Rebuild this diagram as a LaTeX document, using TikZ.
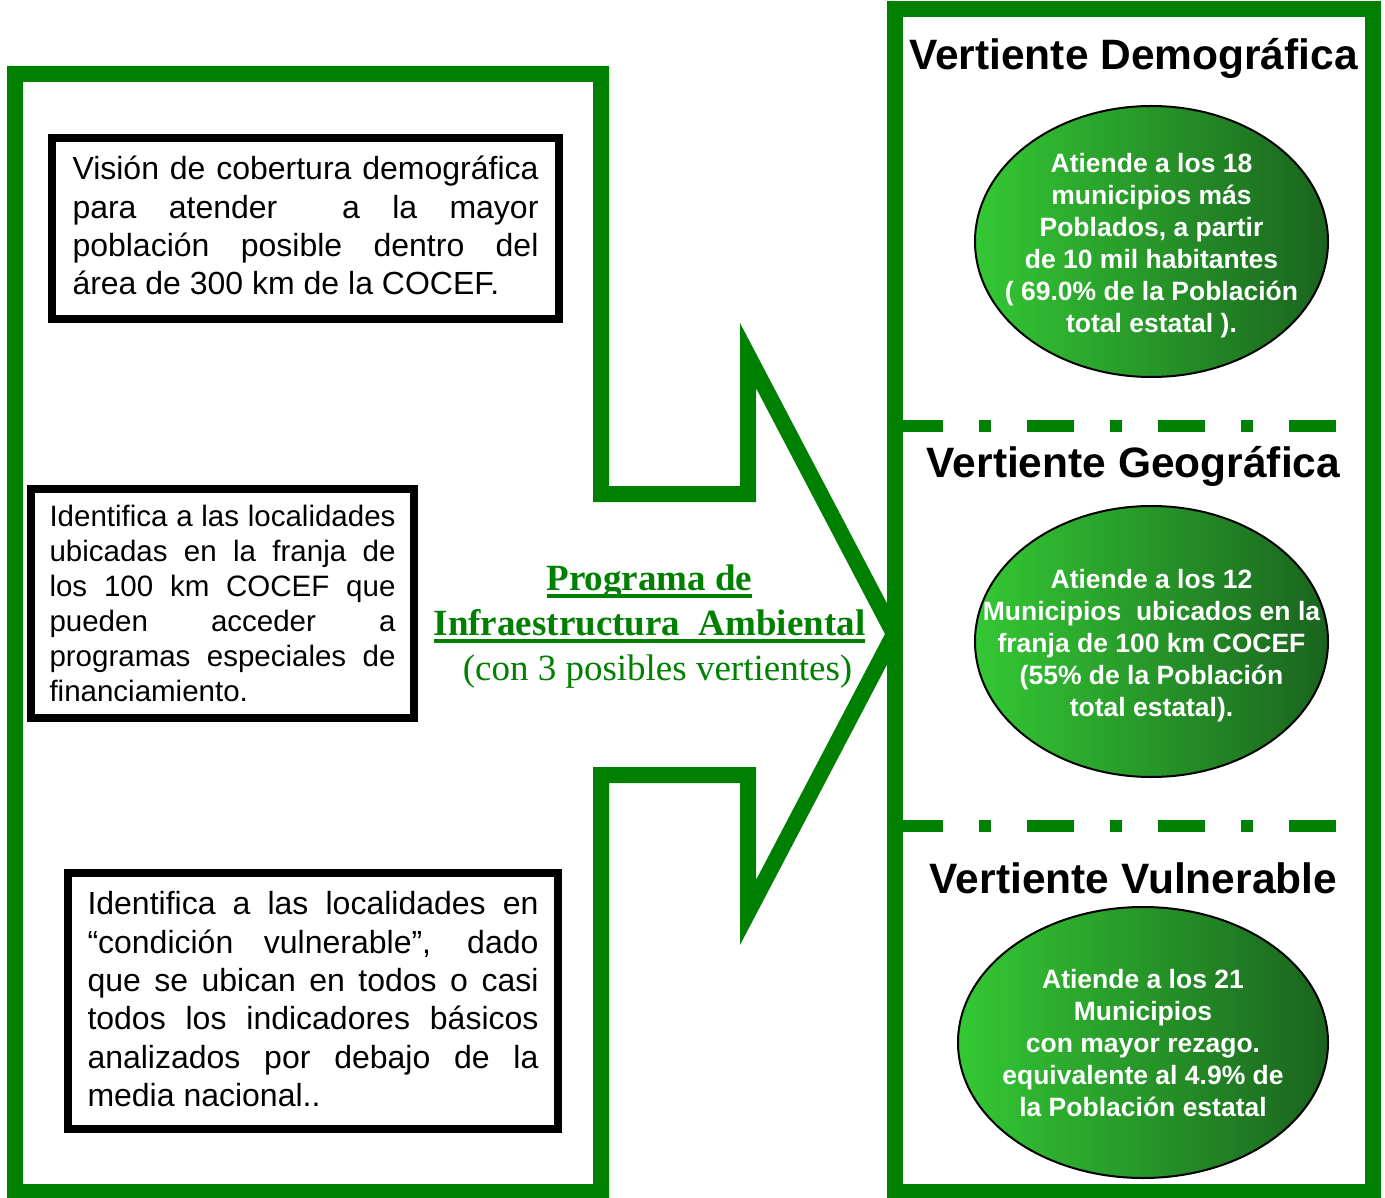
\documentclass[tikz,border=0pt]{standalone}
\usepackage{fontspec}
\setmainfont{Liberation Sans}
\newfontfamily\romana{Liberation Serif}
\usetikzlibrary{shapes.geometric}
\usetikzlibrary{positioning}
\definecolor{verdemarco}{RGB}{0,128,0}
\definecolor{verdeclaro}{RGB}{52,200,52}
\definecolor{verdeoscuro}{RGB}{26,100,30}
\newcommand{\titulofont}{\fontsize{42.5}{50}\selectfont\bfseries}
\newcommand{\cajafont}{\fontsize{32}{38.3}\selectfont\tolerance=10000\hyphenpenalty=10000}
\newcommand{\franjafont}{\fontsize{29.5}{35}\selectfont\tolerance=10000\hyphenpenalty=10000}
\newcommand{\burbujafont}{\fontsize{26.5}{32}\selectfont\bfseries}
\newcommand{\programafont}{\romana\fontsize{37}{45}\selectfont}
\newcommand{\subraya}[1]{\setbox0\hbox{#1}\rlap{\rule[-7pt]{\wd0}{3.5pt}}\box0}
\newcommand{\bajo}[1]{\rule[-#1]{0pt}{#1}}

\begin{document}
\begin{tikzpicture}[x=1pt,y=-1pt,line join=miter,
		marco/.style={draw=verdemarco,line width=16pt},
		separa/.style={draw=verdemarco,line width=12pt,dash pattern=on 47pt off 36pt on 12pt off 36pt},
		caja/.style={rectangle,draw=black,line width=7.5pt,align=justify,inner sep=0pt},
		burbuja/.style={ellipse,draw=black,line width=2pt,left color=verdeclaro,right color=verdeoscuro,inner sep=0pt,minimum height=271pt},
		textob/.style={align=center,text=white,font=\burbujafont},
		titulo/.style={anchor=base,font=\titulofont}]
		\useasboundingbox (0,0) rectangle (1385,1198);
		
		% flecha con las tres cajas
		\draw[marco] (15,74) -- (601,74) -- (601,494) -- (748,494) -- (748,355.5) -- (894,634)
			-- (748,912.5) -- (748,775) -- (601,775) -- (601,1192) -- (15,1192) -- cycle;
		
		% columna de vertientes
		\draw[separa] (896,426) -- (1337,426);
		\draw[separa] (896,826) -- (1337,826);
		\draw[marco] (895,9.5) rectangle (1373,1192);
		
		\node[caja,text width=466pt,minimum width=507pt,minimum height=181pt,font=\cajafont] (cobertura) at (305.5,228.5)
			{Visión de cobertura demográfica\linebreak para atender \ a la mayor\linebreak población posible dentro del\linebreak área de 300 km de la COCEF.\bajo{6pt}};
		\node[caja,text width=346pt,minimum width=383pt,minimum height=229pt,font=\franjafont] (franja) at (222.5,603.5)
			{Identifica a las localidades\linebreak ubicadas en la franja de\linebreak los 100 km COCEF que\linebreak pueden acceder a\linebreak programas especiales de\linebreak financiamiento.};
		\node[caja,text width=451pt,minimum width=490pt,minimum height=256pt,font=\cajafont] (vulnerable) at (313,1001)
			{Identifica a las localidades en\linebreak “condición vulnerable”, dado\linebreak que se ubican en todos o casi\linebreak todos los indicadores básicos\linebreak analizados por debajo de la\linebreak media nacional..\bajo{4pt}};
		
		\node[align=center,text=verdemarco,font=\programafont] (programa) at (649.5,627)
			{\subraya{\bfseries Programa de}\\ \subraya{\bfseries Infraestructura \ Ambiental}\\ \hspace*{16pt}(con 3 posibles vertientes)};
		
		\node[titulo] (tdemo) at (1133.5,70) {Vertiente Demográfica};
		\node[titulo] (tgeo)  at (1133.5,477) {Vertiente Geográfica};
		\node[titulo] (tvul)  at (1133.5,893) {Vertiente Vulnerable};
		
		\node[burbuja,minimum width=353pt] (edemo) at (1151.5,241.5) {};
		\node[burbuja,minimum width=353pt] (egeo)  at (1151.5,641.5) {};
		\node[burbuja,minimum width=370pt] (evul)  at (1143,1042.5) {};
		
		\node[textob,yshift=-4pt] (xdemo) at (edemo.center)
			{Atiende a los 18\\ municipios más\\ Poblados, a partir\\ de 10 mil habitantes\\ ( 69.0\% de la Población\\ total estatal ).};
		\node[textob,yshift=-4pt] (xgeo) at (egeo.center)
			{Atiende a los 12\\ Municipios \ ubicados en la\\ franja de 100 km COCEF\\ (55\% de la Población\\ total estatal).};
		\node[textob,yshift=-1pt] (xvul) at (evul.center)
			{Atiende a los 21\\ Municipios\\ con mayor rezago.\\ equivalente al 4.9\% de\\ la Población estatal};
		
\end{tikzpicture}
\end{document}
